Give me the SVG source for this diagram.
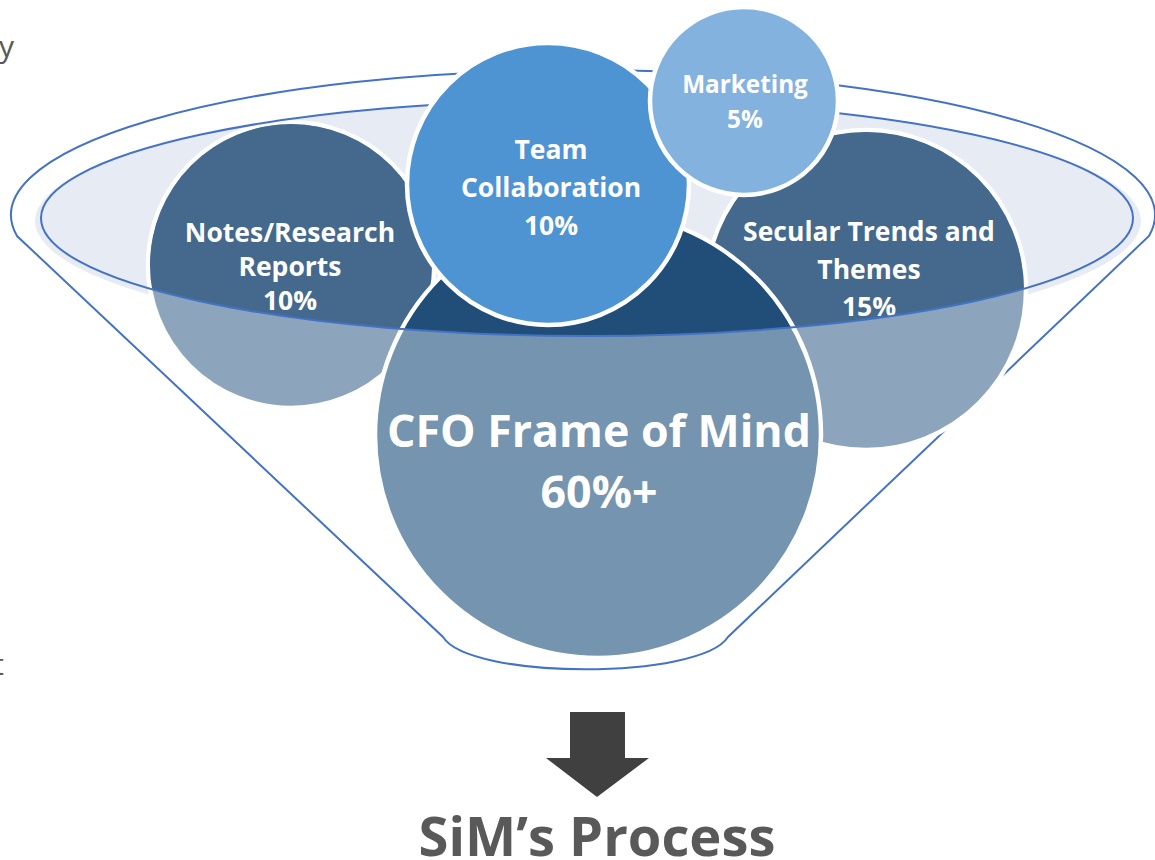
<svg xmlns="http://www.w3.org/2000/svg" width="1155" height="860" viewBox="0 0 1155 860">
<style>
.lbl{font-family:"Open Sans","Noto Sans","Liberation Sans",sans-serif;font-weight:700;fill:#fff;text-anchor:middle}
.ring{stroke:#fff;stroke-width:4.5}
.fl{fill:none;stroke:#4472C4;stroke-width:2}
.gray{font-family:"Open Sans","Noto Sans","Liberation Sans",sans-serif;fill:#595959}
</style>
<defs>
<clipPath id="inner"><ellipse cx="587" cy="218" rx="546" ry="118"/></clipPath>
</defs>
<rect width="1155" height="860" fill="#fff"/>
<text class="gray" x="14" y="57" font-size="30" text-anchor="end">y</text>
<text class="gray" x="4" y="675" font-size="30" text-anchor="end">t</text>

<g id="funnel">
<path class="fl" d="M17 236 A572 145 0 1 1 1149 236 L728 637 C700 680 470 680 443 637 Z"/>
<ellipse cx="588" cy="221" rx="553" ry="121" fill="#E6EBF4"/>
</g>

<g id="notes">
<circle cx="291" cy="265" r="143" fill="#8CA4BC" class="ring"/>
<circle cx="291" cy="265" r="141" fill="#44698D" clip-path="url(#inner)"/>
<text class="lbl" font-size="26.5"><tspan x="290" y="242">Notes/Research</tspan><tspan x="290" y="276">Reports</tspan><tspan x="290" y="310">10%</tspan></text>
</g>

<g id="secular">
<circle cx="866" cy="290" r="160" fill="#8CA4BC" class="ring"/>
<circle cx="866" cy="290" r="158" fill="#44698D" clip-path="url(#inner)"/>
<text class="lbl" font-size="26.5"><tspan x="869" y="241">Secular Trends and</tspan><tspan x="869" y="279">Themes</tspan><tspan x="869" y="316">15%</tspan></text>
</g>

<g id="cfo">
<circle cx="598" cy="435" r="223" fill="#7594AF" class="ring"/>
<circle cx="598" cy="435" r="221" fill="#204E79" clip-path="url(#inner)"/>
<text class="lbl" font-size="44.7"><tspan x="599" y="447">CFO Frame of Mind</tspan><tspan x="599" y="508">60%+</tspan></text>
</g>

<g id="connectors">
<ellipse class="fl" cx="587" cy="218" rx="546" ry="118"/>
</g>

<g id="team">
<circle cx="548" cy="184" r="141" fill="#4E93D2" class="ring"/>
<text class="lbl" font-size="26.5"><tspan x="551" y="159">Team</tspan><tspan x="551" y="197">Collaboration</tspan><tspan x="551" y="235">10%</tspan></text>
</g>

<g id="marketing">
<circle cx="744" cy="101" r="94" fill="#83B2DF" class="ring"/>
<text class="lbl" font-size="24.3"><tspan x="745" y="93">Marketing</tspan><tspan x="745" y="128">5%</tspan></text>
</g>

<g id="arrow">
<path d="M570 712 H625 V758 H649 L597 797 L546 758 H570 Z" fill="#404040"/>
</g>

<text class="gray" x="597" y="856" font-size="54.3" font-weight="700" text-anchor="middle">SiM’s Process</text>
</svg>
